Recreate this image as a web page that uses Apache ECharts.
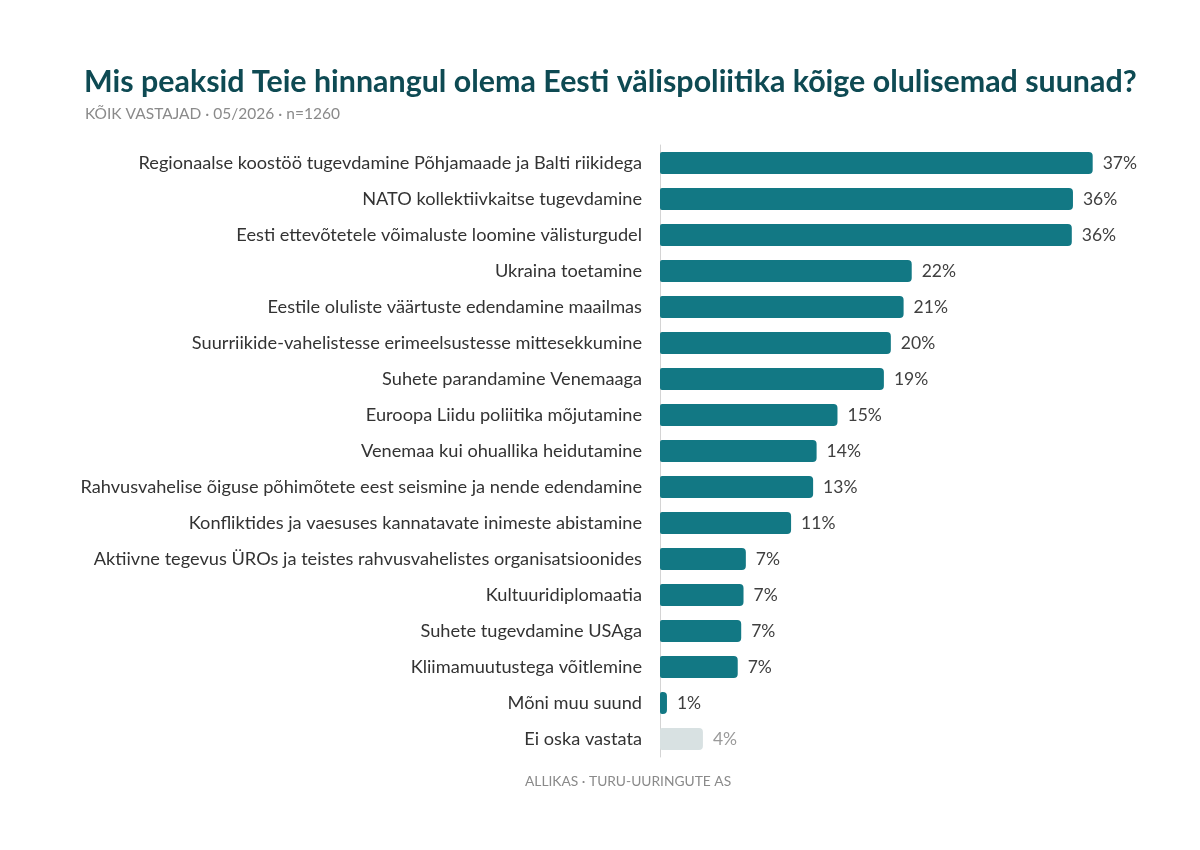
<!DOCTYPE html>
<html>
<head>
<meta charset="utf-8">
<script src="https://cdn.jsdelivr.net/npm/echarts@6/dist/echarts.min.js"></script>
<style>
  html, body { margin: 0; padding: 0; background: #fff; }
  #chart1 { width: 1200px; height: 850px; }
</style>
</head>
<body>
<div id="chart1"></div>
<script>
var categories = [
  'Regionaalse koostöö tugevdamine Põhjamaade ja Balti riikidega',
  'NATO kollektiivkaitse tugevdamine',
  'Eesti ettevõtetele võimaluste loomine välisturgudel',
  'Ukraina toetamine',
  'Eestile oluliste väärtuste edendamine maailmas',
  'Suurriikide-vahelistesse erimeelsustesse mittesekkumine',
  'Suhete parandamine Venemaaga',
  'Euroopa Liidu poliitika mõjutamine',
  'Venemaa kui ohuallika heidutamine',
  'Rahvusvahelise õiguse põhimõtete eest seismine ja nende edendamine',
  'Konfliktides ja vaesuses kannatavate inimeste abistamine',
  'Aktiivne tegevus ÜROs ja teistes rahvusvahelistes organisatsioonides',
  'Kultuuridiplomaatia',
  'Suhete tugevdamine USAga',
  'Kliimamuutustega võitlemine',
  'Mõni muu suund',
  'Ei oska vastata'
];
var values = [37.3, 35.6, 35.5, 21.7, 21.0, 19.9, 19.3, 15.3, 13.5, 13.2, 11.3, 7.4, 7.2, 7.0, 6.7, 0.6, 3.7];
var mutedCategories = ['Ei oska vastata'];

var myChart = echarts.init(document.getElementById('chart1'));

var FONT = 'Lato';
var barData = values.map(function (v, i) {
  var muted = mutedCategories.indexOf(categories[i]) >= 0;
  return {
    value: v,
    itemStyle: { color: muted ? '#d8e1e2' : '#127884' },
    label: { color: muted ? '#9a9a9a' : '#404040' }
  };
});

var option = {
  backgroundColor: '#ffffff',
  animation: false,
  title: [
    {
      text: 'Mis peaksid Teie hinnangul olema Eesti välispoliitika kõige olulisemad suunad?',
      left: 84,
      top: 67,
      padding: 0,
      textStyle: { fontFamily: FONT, fontWeight: 'bold', fontSize: 30.4, color: '#0e4a53' }
    },
    {
      text: 'KÕIK VASTAJAD · 05/2026 · n=1260',
      left: 85,
      top: 106,
      padding: 0,
      textStyle: { fontFamily: FONT, fontWeight: 'normal', fontSize: 15.5, color: '#8a8a8a' }
    },
    {
      text: 'ALLIKAS · TURU-UURINGUTE AS',
      left: 525,
      top: 775,
      padding: 0,
      textStyle: { fontFamily: FONT, fontWeight: 'normal', fontSize: 13.8, color: '#8a8a8a' }
    }
  ],
  grid: { left: 660, right: 76, top: 145, bottom: 93, containLabel: false },
  xAxis: {
    type: 'value',
    min: 0,
    max: 40,
    show: false
  },
  yAxis: {
    type: 'category',
    inverse: true,
    data: categories,
    axisLine: { show: true, lineStyle: { color: '#d4d4d4', width: 1 } },
    axisTick: { show: false },
    axisLabel: { fontFamily: FONT, fontSize: 18.2, color: '#333333', margin: 18 }
  },
  series: [
    {
      type: 'bar',
      data: barData,
      barWidth: 22,
      itemStyle: { borderRadius: [2, 4, 4, 2] },
      label: {
        show: true,
        position: 'right',
        distance: 10,
        fontFamily: FONT,
        fontSize: 17.5,
        formatter: function (p) { return Math.round(p.value) + '%'; }
      }
    }
  ]
};
myChart.setOption(option);
</script>
</body>
</html>
